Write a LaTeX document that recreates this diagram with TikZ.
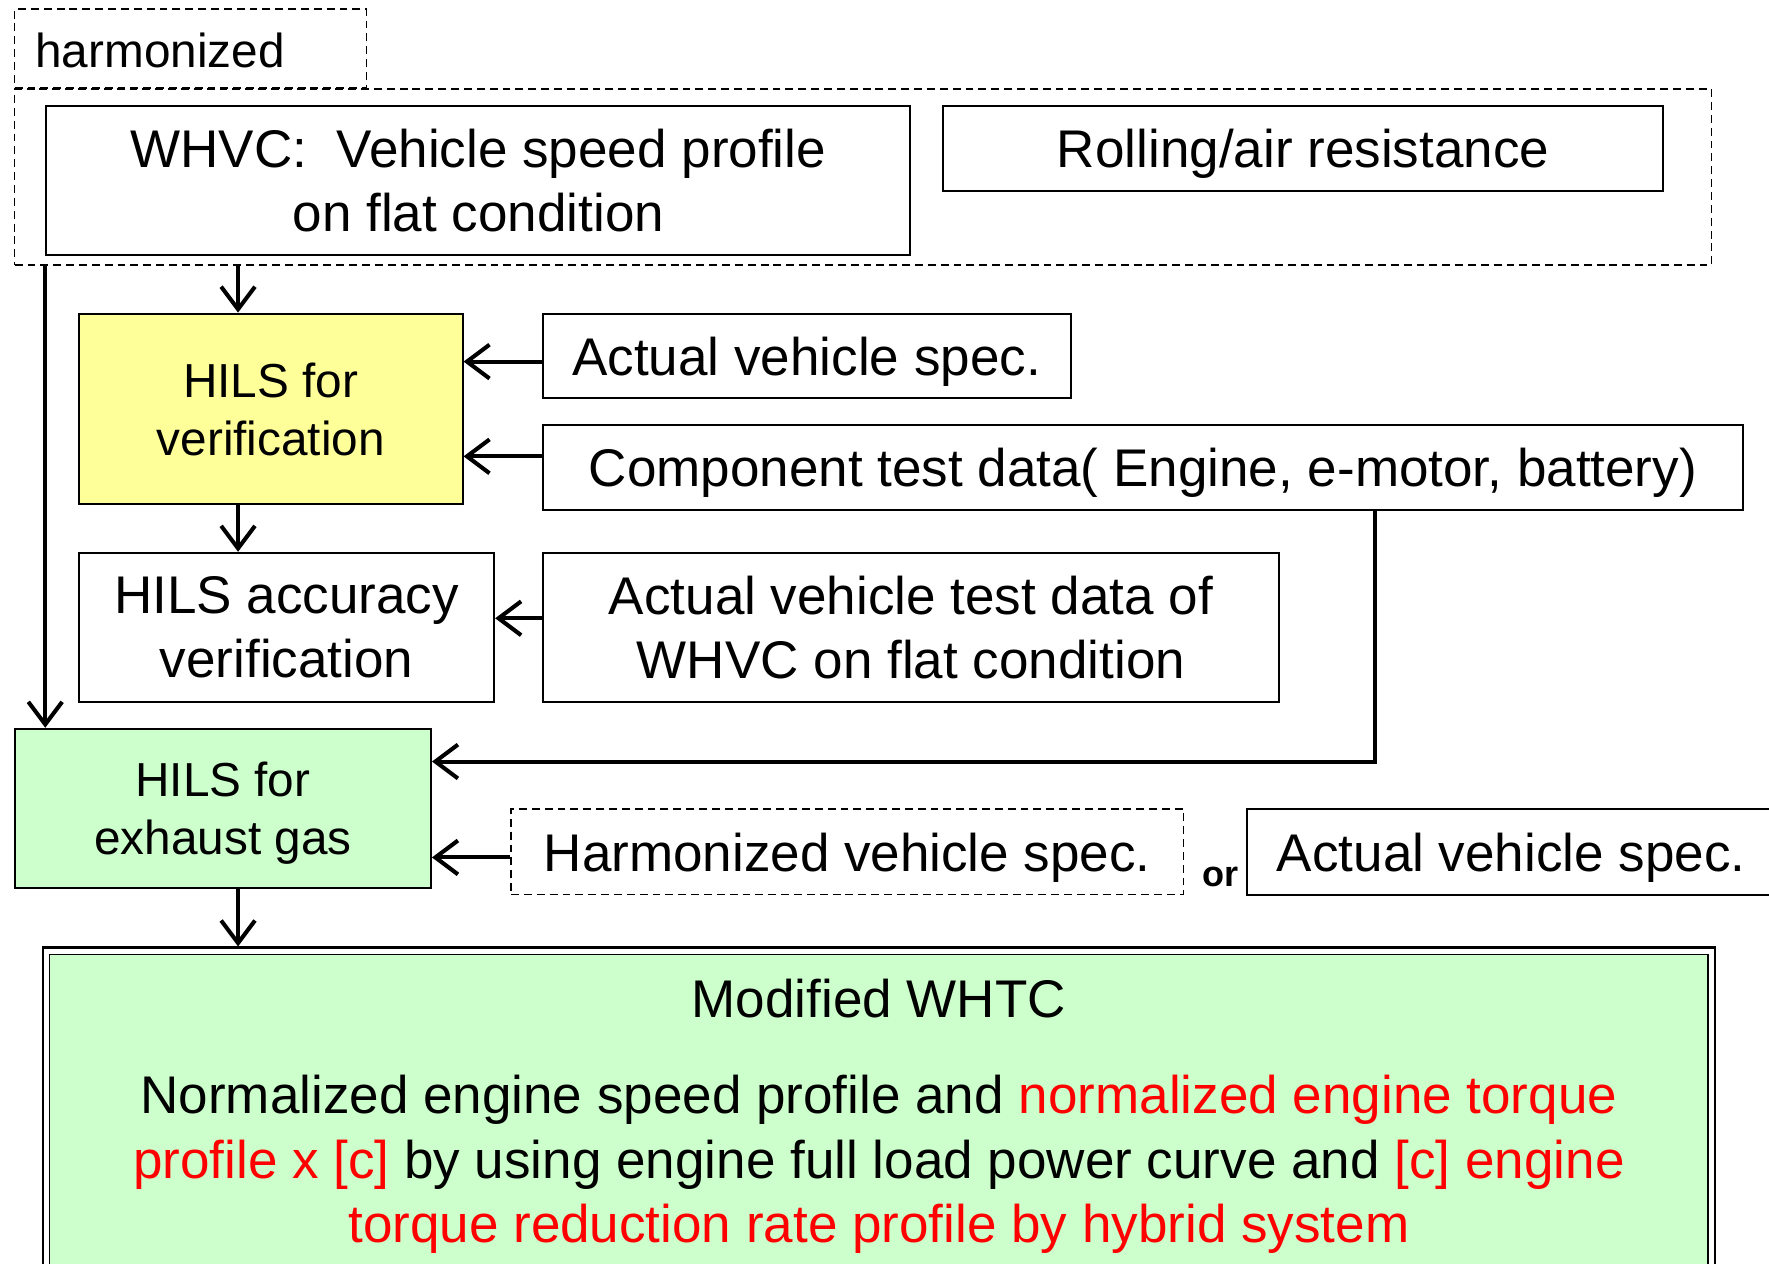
\documentclass[tikz,border=0pt]{standalone}
\usepackage{fontspec}
\setmainfont{Liberation Sans}
\usetikzlibrary{arrows.meta,calc}
\definecolor{hilsyellow}{HTML}{FFFF99}
\definecolor{hilsgreen}{HTML}{CCFFCC}
\definecolor{hlred}{HTML}{FF0000}

\begin{document}
\begin{tikzpicture}[x=0.5pt,y=-0.5pt,
  box/.style={draw, line width=0.9pt, inner sep=0pt, align=center, text depth=0pt,
    font=\fontsize{23.5pt}{28.5pt}\selectfont},
  dbox/.style={box, line width=0.6pt, dash pattern=on 3.5pt off 2.2pt},
  smalltext/.style={font=\fontsize{21.15pt}{25.5pt}\selectfont},
  arr/.style={line width=1.8pt, -{Straight Barb[length=10pt,width=15pt]}},
]
\useasboundingbox (0,0) rectangle (1568,1120);
\clip (0,0) rectangle (1568,1120);

% harmonized group
\node[dbox, minimum width=156pt, minimum height=35pt] (harm) at (169,43) {};
\node[smalltext, anchor=west, inner sep=0pt] (harmlabel) at (31,45) {harmonized};
\node[dbox, minimum width=752pt, minimum height=78pt] (bigdash) at (765,157) {};

\node[box, text depth=, minimum width=383pt, minimum height=66pt] (whvc) at (424,160)
  {WHVC:\ \ Vehicle speed profile\\on flat condition};
\node[box, minimum width=319pt, minimum height=37.5pt] (roll) at (1155,131.5)
  {Rolling/air resistance};

% verification stage
\node[box, smalltext, fill=hilsyellow, minimum width=170pt, minimum height=84.5pt] (verif) at (240,362.5)
  {HILS for\\verification};
\node[box, minimum width=234pt, minimum height=37.5pt] (avs1) at (715,315.5)
  {Actual vehicle spec.};
\node[box, minimum width=532pt, minimum height=37.5pt] (comp) at (1013,414.5)
  {Component test data( Engine, e-motor, battery)};
\node[box, minimum width=184pt, minimum height=66pt] (acc) at (254,556)
  {HILS accuracy\\verification};
\node[box, minimum width=326.5pt, minimum height=66pt] (avtd) at (807.5,556)
  {Actual vehicle test data of\\WHVC on flat condition};

% exhaust gas stage
\node[box, smalltext, fill=hilsgreen, minimum width=184.5pt, minimum height=70.5pt] (exh) at (197.5,716.5)
  {HILS for\\exhaust gas};
\node[dbox, minimum width=298pt, minimum height=38pt] (hvs) at (751,755)
  {Harmonized vehicle spec.};
\node[anchor=base, inner sep=0pt, font=\fontsize{16pt}{19pt}\selectfont\bfseries] (orlabel) at (1082,786) {or};
\node[box, minimum width=234.5pt, minimum height=38pt] (avs2) at (1339.5,755)
  {Actual vehicle spec.};

% result
\node[draw, line width=1.1pt, minimum width=741pt, minimum height=150pt, inner sep=0pt] (whtc) at (779,990) {};
\node[draw, line width=0.7pt, fill=hilsgreen, minimum width=735pt, minimum height=144pt, inner sep=0pt] (whtcin) at (779,990) {};
\node[font=\fontsize{23.5pt}{28.5pt}\selectfont, inner sep=0pt] (whtctitle) at (779,885) {Modified WHTC};
\node[font=\fontsize{23.5pt}{28.5pt}\selectfont, align=center, inner sep=0pt] (whtcbody) at (779,1032)
  {Normalized engine speed profile and \textcolor{hlred}{normalized engine torque}\\
   \textcolor{hlred}{profile x [c]} by using engine full load power curve and \textcolor{hlred}{[c] engine}\\
   \textcolor{hlred}{torque reduction rate profile by hybrid system}};

% connectors
\coordinate (col) at (211,0);
\coordinate (tap) at (1219,675);
\draw[arr] (whvc.west |- bigdash.south) -- (whvc.west |- exh.north);
\draw[arr] (col |- bigdash.south) -- (col |- verif.north);
\draw[arr] ([yshift=-2.5pt]avs1.west) -- ([yshift=-2.5pt]verif.east |- avs1.west);
\draw[arr] ([yshift=5pt]comp.west) -- ([yshift=5pt]verif.east |- comp.west);
\draw[arr] (col |- verif.south) -- (col |- acc.north);
\draw[arr] ([yshift=4pt]avtd.west) -- ([yshift=4pt]acc.east |- avtd.west);
\draw[arr] (comp.south -| tap) -- (tap) -- (exh.east |- tap);
\draw[arr] ([yshift=-2.5pt]hvs.west) -- ([yshift=-2.5pt]exh.east |- hvs.west);
\draw[arr] (col |- exh.south) -- (col |- whtc.north);
\end{tikzpicture}
\end{document}
